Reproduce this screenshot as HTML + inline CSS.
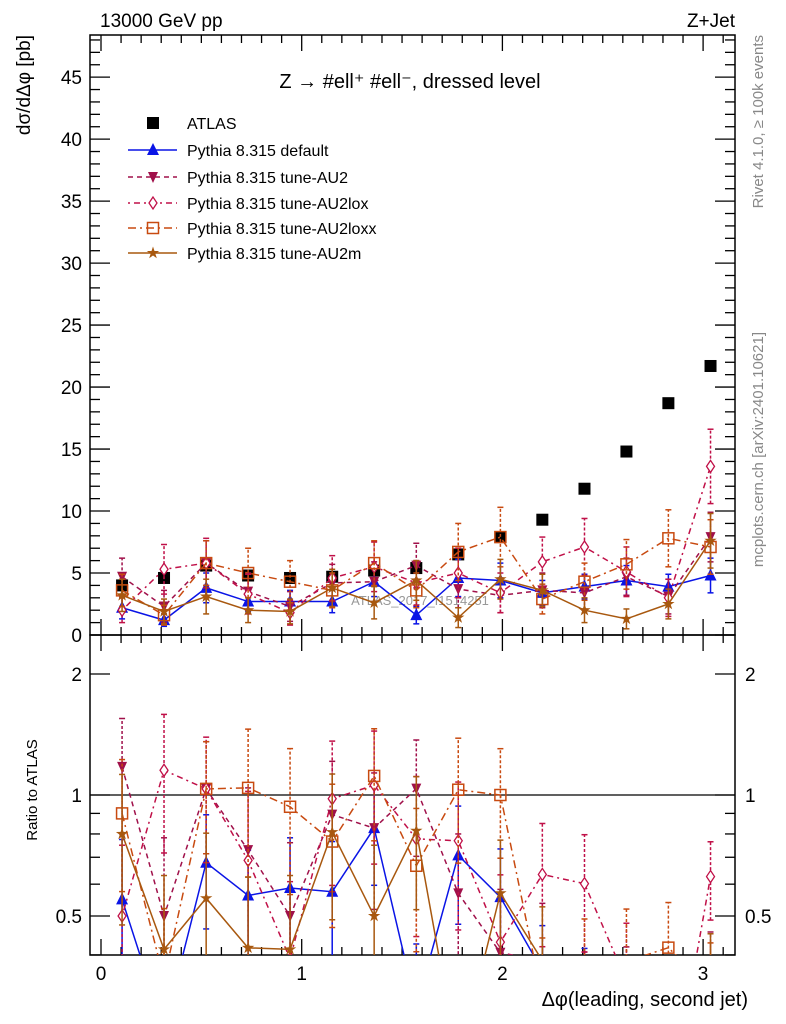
<!DOCTYPE html>
<html><head><meta charset="utf-8"><style>
html,body{margin:0;padding:0;background:#fff;overflow:hidden;}
svg{display:block;}
svg text{font-family:"Liberation Sans",sans-serif;}
</style></head><body>
<svg id="c" width="786" height="1024" xmlns="http://www.w3.org/2000/svg"></svg>
<script>
const binCenters=[0.105,0.314,0.524,0.733,0.942,1.152,1.361,1.571,1.780,1.990,2.199,2.409,2.618,2.827,3.037];
const atlas=[4.0,4.6,5.6,4.8,4.6,4.7,5.2,5.4,6.5,7.9,9.3,11.8,14.8,18.7,21.7];
const atlasErr=[0.3,0.3,0.3,0.3,0.3,0.3,0.3,0.3,0.3,0.3,0.3,0.3,0.3,0.3,0.3];
const vDefault=[2.2,1.2,3.8,2.7,2.7,2.7,4.3,1.6,4.6,4.4,3.4,3.9,4.4,3.9,4.8];
const eDefault=[0.9,0.5,1.2,0.8,0.9,0.9,1.2,0.7,1.5,1.4,1.0,1.0,1.2,1.0,1.4];
const vAU2=[4.7,2.3,5.8,3.5,2.3,4.2,4.3,5.6,3.7,3.2,3.6,3.4,4.7,3.1,7.9];
const eAU2=[1.5,1.3,1.8,1.5,1.2,1.5,1.6,1.8,1.5,1.4,1.4,1.4,1.5,1.4,2.0];
const vLox=[2.0,5.3,5.8,3.3,1.8,4.6,5.5,4.2,5.0,3.4,5.9,7.1,5.1,3.0,13.6];
const eLox=[1.0,2.0,2.0,1.6,1.0,1.8,2.0,1.8,2.0,1.6,2.0,2.3,2.0,1.5,3.0];
const vLoxx=[3.6,1.6,5.8,5.0,4.3,3.6,5.8,3.6,6.7,7.9,2.9,4.3,5.7,7.8,7.1];
const eLoxx=[1.3,0.8,1.8,2.0,1.7,1.4,1.8,1.4,2.3,2.4,1.2,1.5,2.0,2.3,2.2];
const vAU2m=[3.2,1.9,3.1,2.0,1.9,3.8,2.6,4.4,1.4,4.5,3.6,2.0,1.3,2.5,7.6];
const eAU2m=[1.3,1.0,1.4,1.0,1.0,1.5,1.3,1.6,0.8,1.6,1.3,1.0,0.8,1.2,2.2];
const xTicks=[0,1,2,3];
const yTicks=[0,5,10,15,20,25,30,35,40,45];
const rTicks=[0.5,1,2];

const NS="http://www.w3.org/2000/svg";
const svg=document.getElementById('c');
const L=90,R=735,T=35,MB=635,RB=955;
const X=v=>101+200.7*v;
const Y=v=>MB-(MB-T)*v/48.4;
const RY=r=>795-121*Math.log2(r);
function el(tag,attrs,parent){const e=document.createElementNS(NS,tag);for(const k in attrs)e.setAttribute(k,attrs[k]);(parent||svg).appendChild(e);return e;}
function txt(s,x,y,attrs,parent){const t=el('text',Object.assign({x:x,y:y,'font-size':18,fill:'#000'},attrs||{}),parent);t.textContent=s;return t;}

const defs=el('defs',{});
const c1=el('clipPath',{id:'cm'},defs);el('rect',{x:L,y:T,width:R-L,height:MB-T},c1);
const c2=el('clipPath',{id:'cr'},defs);el('rect',{x:L,y:MB,width:R-L,height:RB-MB},c2);

let f=el('rect',{x:L,y:T,width:R-L,height:MB-T,fill:'none',stroke:'#000','stroke-width':1.5});

f=el('rect',{x:L,y:MB,width:R-L,height:RB-MB,fill:'none',stroke:'#000','stroke-width':1.5});


for(let v=0;v<=3.15;v+=0.1){const vv=Math.round(v*10)/10;const maj=Math.abs(vv-Math.round(vv))<1e-6;const len=maj?16:8;
 for(const yb of [MB,RB]){el('line',{x1:X(vv),x2:X(vv),y1:yb,y2:yb-len,stroke:'#000','stroke-width':1.3});}
 for(const yt of [T,MB]){el('line',{x1:X(vv),x2:X(vv),y1:yt,y2:yt+len,stroke:'#000','stroke-width':1.3});}}
xTicks.forEach(v=>{const t=txt(String(v),X(v),980,{'text-anchor':'middle','font-size':19});
 });
for(let v=0;v<=48;v++){const maj=v%5===0;const len=maj?20:10;
 el('line',{x1:L,x2:L+len,y1:Y(v),y2:Y(v),stroke:'#000','stroke-width':1.3});
 el('line',{x1:R,x2:R-len,y1:Y(v),y2:Y(v),stroke:'#000','stroke-width':1.3});}
yTicks.forEach(v=>{const t=txt(String(v),82,Y(v)+7,{'text-anchor':'end','font-size':19});
 });
[0.4,0.5,0.6,0.7,0.8,0.9,1,2].forEach(r=>{const maj=rTicks.includes(r);const len=maj?20:10;
 el('line',{x1:L,x2:L+len,y1:RY(r),y2:RY(r),stroke:'#000','stroke-width':1.3});
 el('line',{x1:R,x2:R-len,y1:RY(r),y2:RY(r),stroke:'#000','stroke-width':1.3});});
rTicks.forEach(r=>{let t=txt(String(r),82,RY(r)+7,{'text-anchor':'end','font-size':19});
 
 t=txt(String(r),745,RY(r)+7,{'font-size':19});
 });
el('line',{x1:L,x2:R,y1:RY(1),y2:RY(1),stroke:'#000','stroke-width':1.3});

let t=txt('13000 GeV pp',100,27,{'font-size':19});
t=txt('Z+Jet',735,27,{'font-size':19,'text-anchor':'end'});
t=txt('Z \u2192 #ell\u207A #ell\u207B, dressed level',410,88,{'font-size':20,'text-anchor':'middle'});
t=txt('d\u03C3/d\u0394\u03C6 [pb]',0,0,{'font-size':19,'text-anchor':'end',transform:'translate(30,35) rotate(-90)'});
t=txt('Ratio to ATLAS',0,0,{'font-size':15,'text-anchor':'middle',transform:'translate(37,790) rotate(-90)'});
t=txt('\u0394\u03C6(leading, second jet)',748,1006,{'font-size':20,'text-anchor':'end'});
t=txt('Rivet 4.1.0, \u2265 100k events',0,0,{'font-size':15,fill:'#888','text-anchor':'end',transform:'translate(763,35) rotate(-90)'});
t=txt('mcplots.cern.ch [arXiv:2401.10621]',0,0,{'font-size':15,fill:'#888','text-anchor':'end',transform:'translate(763,332) rotate(-90)'});
t=txt('ATLAS_2017_I1514251',420,605,{'font-size':13,fill:'#999','text-anchor':'middle'});

function marker(kind,x,y,col,g){
 if(kind==='sq')return el('rect',{x:x-6,y:y-6,width:12,height:12,fill:'#000'},g);
 if(kind==='tu')return el('polygon',{points:`${x},${y-7} ${x-6},${y+5} ${x+6},${y+5}`,fill:col},g);
 if(kind==='td')return el('polygon',{points:`${x},${y+6} ${x-5},${y-5} ${x+5},${y-5}`,fill:col},g);
 if(kind==='di')return el('polygon',{points:`${x},${y-6} ${x-4},${y} ${x},${y+6} ${x+4},${y}`,fill:'#fff',stroke:col,'stroke-width':1.3},g);
 if(kind==='os')return el('rect',{x:x-5.5,y:y-5.5,width:11,height:11,fill:'none',stroke:col,'stroke-width':1.5},g);
 if(kind==='st'){let p='';for(let i=0;i<10;i++){const r=i%2?2.5:6.5;const a=-Math.PI/2+i*Math.PI/5;p+=`${x+r*Math.cos(a)},${y+r*Math.sin(a)} `;}return el('polygon',{points:p,fill:col},g);}
}
const series=[
 {name:'default',label:'Pythia 8.315 default',v:vDefault,e:eDefault,col:'#0a14e6',dash:'',kind:'tu'},
 {name:'au2',label:'Pythia 8.315 tune-AU2',v:vAU2,e:eAU2,col:'#a0104a',dash:'5,4',kind:'td'},
 {name:'au2lox',label:'Pythia 8.315 tune-AU2lox',v:vLox,e:eLox,col:'#c01048',dash:'2,4,6,4',kind:'di'},
 {name:'au2loxx',label:'Pythia 8.315 tune-AU2loxx',v:vLoxx,e:eLoxx,col:'#c84a10',dash:'8,4,2,4',kind:'os'},
 {name:'au2m',label:'Pythia 8.315 tune-AU2m',v:vAU2m,e:eAU2m,col:'#a8580f',dash:'',kind:'st'}
];
function drawSeries(s,Yf,vals,errs,clip,prefix){
 const g=el('g',{'clip-path':`url(#${clip})`});
 
 const pts=vals.map((v,i)=>`${X(binCenters[i])},${Yf(v)}`).join(' ');
 el('polyline',{points:pts,fill:'none',stroke:s.col,'stroke-width':1.5,'stroke-dasharray':s.dash},g);
 vals.forEach((v,i)=>{const x=X(binCenters[i]);const y1=Yf(Math.max(v-errs[i],0.05)),y2=Yf(v+errs[i]);
  el('line',{x1:x,x2:x,y1:y1,y2:y2,stroke:s.col,'stroke-width':1.5,'stroke-dasharray':s.dash?'3,2':''},g);
  el('line',{x1:x-3,x2:x+3,y1:y1,y2:y1,stroke:s.col,'stroke-width':1.5},g);
  el('line',{x1:x-3,x2:x+3,y1:y2,y2:y2,stroke:s.col,'stroke-width':1.5},g);
  const m=marker(s.kind,x,Yf(v),s.col,g);
  });
}
const ga=el('g',{'clip-path':'url(#cm)'});
atlas.forEach((v,i)=>{const m=marker('sq',X(binCenters[i]),Y(v),'#000',ga);});
series.forEach(s=>drawSeries(s,Y,s.v,s.e,'cm','main'));
series.forEach(s=>{const r=s.v.map((v,i)=>v/atlas[i]);const re=s.e.map((e,i)=>e/atlas[i]);drawSeries(s,RY,r,re,'cr','ratio');});

const lg=el('g',{});
const ys=[123,150,177,203,228,253];
let le=el('g',{},lg);
marker('sq',153,ys[0],'#000',le);txt('ATLAS',187,ys[0]+6,{'font-size':16},le);
series.forEach((s,i)=>{const g=el('g',{},lg);
 const y=ys[i+1];el('line',{x1:128,x2:177,y1:y,y2:y,stroke:s.col,'stroke-width':1.5,'stroke-dasharray':s.dash},g);
 marker(s.kind,153,y,s.col,g);txt(s.label,187,y+6,{'font-size':16},g);});
</script>
</body></html>
